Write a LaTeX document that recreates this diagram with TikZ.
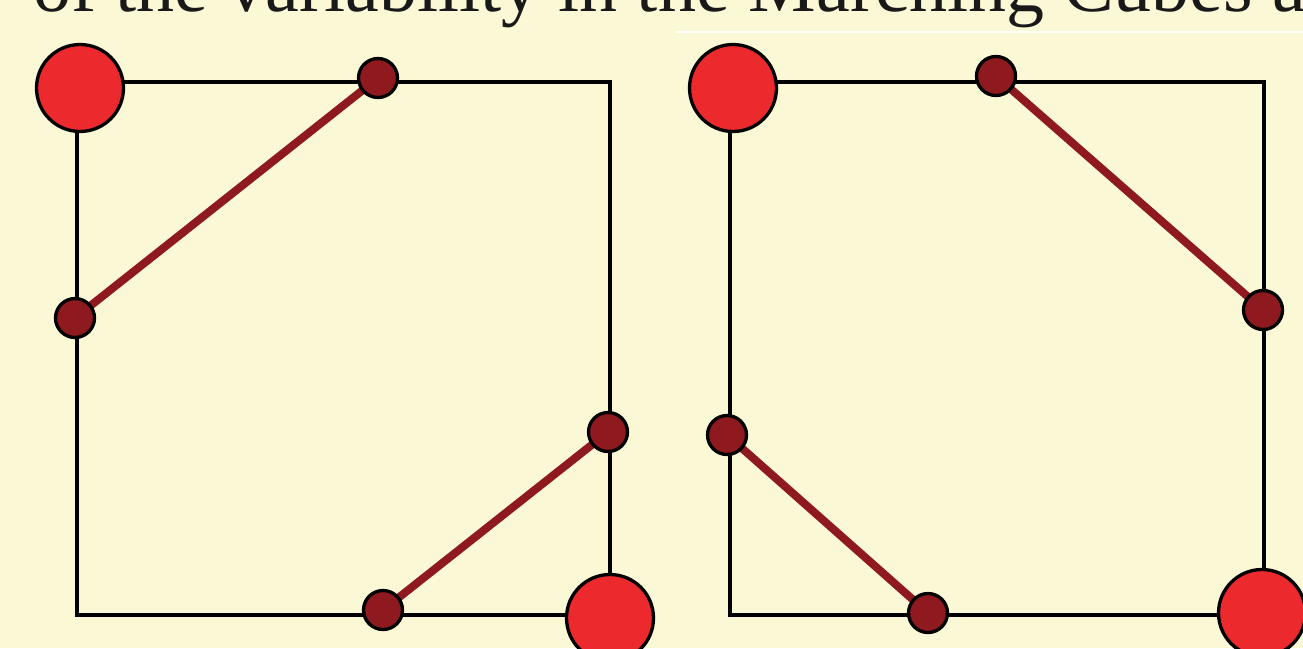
\documentclass[tikz,border=0pt]{standalone}
\usepackage{fontspec}
\setmainfont{Liberation Serif}
\definecolor{paper}{HTML}{FBF8D6}
\definecolor{hotred}{HTML}{EC2A2E}
\definecolor{darkred}{HTML}{8E1A1F}
\tikzset{
	bigdot/.style={circle,draw=black,line width=3.3pt,fill=hotred,minimum size=87pt,inner sep=0pt},
	smalldot/.style={circle,draw=black,line width=3.3pt,fill=darkred,minimum size=39pt,inner sep=0pt},
	cubeedge/.style={draw=black,line width=3.6pt},
	cutline/.style={draw=darkred,line width=8pt}
}
\begin{document}
\begin{tikzpicture}[x=1pt,y=-1pt]
		\useasboundingbox (0,0) rectangle (1303,648);
		\clip (0,0) rectangle (1303,648);
		\fill[paper] (0,0) rectangle (1303,648);
		\draw[white,line width=2pt] (676,31.5) -- (1303,31.5);
		\node[anchor=base west,inner sep=0pt,font=\fontsize{76}{80}\selectfont,text=black!90] (title) at (33,11) {of the variability in the Marching Cubes a};
		% left cell
		\coordinate (la) at (378,78);
		\coordinate (lb) at (75,318);
		\coordinate (lc) at (608,432);
		\coordinate (ld) at (383,610);
		\draw[cubeedge] (77,82) rectangle (610,615);
		\draw[cutline] (la) -- (lb);
		\draw[cutline] (lc) -- (ld);
		\node[bigdot] (lin1) at (80,88) {};
		\node[bigdot] (lin2) at (610,618) {};
		\foreach \p in {la,lb,lc,ld} \node[smalldot] at (\p) {};
		% right cell
		\coordinate (ra) at (996,76);
		\coordinate (rb) at (1263,310);
		\coordinate (rc) at (727,435);
		\coordinate (rd) at (928,613);
		\draw[cubeedge] (730,82) rectangle (1264,615);
		\draw[cutline] (ra) -- (rb);
		\draw[cutline] (rc) -- (rd);
		\node[bigdot] (rin1) at (733,88) {};
		\node[bigdot] (rin2) at (1262,613) {};
		\foreach \p in {ra,rb,rc,rd} \node[smalldot] at (\p) {};
\end{tikzpicture}
\end{document}
